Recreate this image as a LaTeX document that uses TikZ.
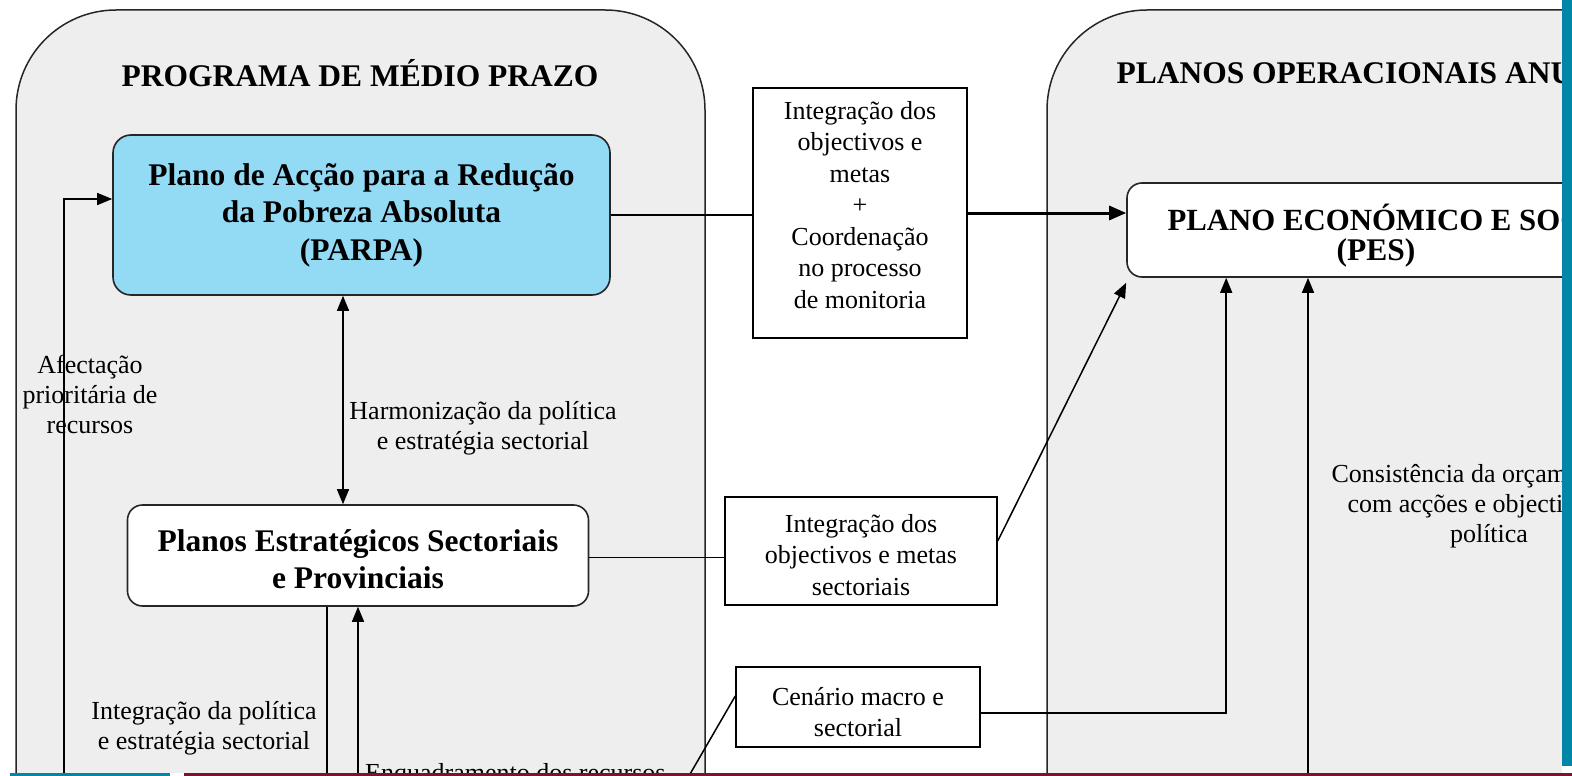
\documentclass[tikz,border=0pt]{standalone}
\usepackage{fontspec}
\setmainfont{Liberation Serif}
\usetikzlibrary{arrows.meta}
\definecolor{panelgray}{HTML}{EEEEEE}
\definecolor{parpablue}{RGB}{147,218,245}
\definecolor{slideteal}{RGB}{0,134,166}
\definecolor{slidered}{RGB}{128,16,48}
\tikzset{
  panel/.style={draw=black!85, line width=1.5pt, fill=panelgray, rounded corners=100pt},
  headfont/.style={font=\fontsize{31.5}{37.5}\selectfont\bfseries},
  roundbox/.style={headfont, draw=black!85, line width=1.6pt, rounded corners=18pt, align=center, inner sep=0pt},
  sqbox/.style={draw=black, line width=1.5pt, fill=white, inner sep=0pt},
  boxtext/.style={align=center, inner sep=0pt, font=\fontsize{26}{31.5}\selectfont},
  lbl/.style={align=center, inner sep=0pt, font=\fontsize{26}{30}\selectfont},
  link/.style={draw=black, line width=1.5pt},
  tip/.style={link, -{Triangle[length=15pt,width=12pt]}},
  twotip/.style={link, {Triangle[length=15pt,width=12pt]}-{Triangle[length=15pt,width=12pt]}},
  fattip/.style={draw=black, line width=3pt, -{Triangle[length=17pt,width=14pt]}}
}

\begin{document}
\begin{tikzpicture}[x=1pt, y=-1pt]
			%%%%% START %%%%%
			\useasboundingbox (0,0) rectangle (1572,776);
			\clip (0,0) rectangle (1572,776);
			\fill[white] (0,0) rectangle (1572,776);
			
			% the two panels
			\draw[panel] (16,10) rectangle (705,900);
			\draw[panel] (1047,10) rectangle (1760,900);
			\node[headfont] (progtitle) at (360,73) {PROGRAMA DE MÉDIO PRAZO};
			\node[headfont, anchor=west] (opertitle) at (1113,73) {PLANOS OPERACIONAIS ANUAIS};
			
			% free labels
			\node[lbl] (afect) at (90,394) {Afectação\\prioritária de\\recursos};
			\node[lbl] (harmon) at (483,428) {Harmonização da política\\e estratégia sectorial};
			\node[lbl] (integpol) at (204,728) {Integração da política\\e estratégia sectorial};
			\node[lbl, anchor=base west] (enquad) at (365,781) {Enquadramento dos recursos};
			\node[lbl] (consist) at (1489,506) {Consistência da orçamentação\\com acções e objectivos de\\política};
			
			% boxes
			\node[roundbox, fill=parpablue, minimum width=497pt, minimum height=160pt] (parpa) at (361.5,215)
				{Plano de Acção para a Redução\\da Pobreza Absoluta\\(PARPA)};
			\node[roundbox, fill=white, rounded corners=15pt, minimum width=461pt, minimum height=101pt] (pesec) at (358,555.5) {};
			\node[headfont, align=center] (pesectxt) at (358,559) {Planos Estratégicos Sectoriais\\e Provinciais};
			\node[roundbox, fill=white, rounded corners=15pt, minimum width=526pt, minimum height=94pt] (pes) at (1390,230) {};
			\node[font=\fontsize{30.8}{37}\selectfont\bfseries, anchor=west] (pestxt) at (1164,217) {PLANO ECONÓMICO E SOCIAL};
			\node[headfont] (pesabbr) at (1376,253) {(PES)};
			\node[sqbox, minimum width=214pt, minimum height=250pt] (coord) at (860,213) {};
			\node[boxtext] (coordtxt) at (860,205)
				{Integração dos\\objectivos e\\metas\\+\\Coordenação\\no processo\\de monitoria};
			\node[sqbox, minimum width=272pt, minimum height=108pt] (metas) at (861,551) {};
			\node[boxtext] (metastxt) at (861,555) {Integração dos\\objectivos e metas\\sectoriais};
			\node[sqbox, minimum width=244pt, minimum height=80pt] (cenario) at (858,707) {};
			\node[boxtext] (cenariotxt) at (858,712) {Cenário macro e\\sectorial};
			
			% connectors
			\coordinate (afbot) at (64,800);
			\coordinate (afturn) at (64,199);
			\draw[tip] (afbot) -- (afturn) -- (afturn -| parpa.west);
			\draw[twotip] ([xshift=-18.5pt]parpa.south) -- ([xshift=-15pt]pesec.north);
			\draw[link] (parpa.east) -- (parpa.east -| coord.west);
			\draw[fattip] (coord.east) -- (coord.east -| pes.west);
			\draw[link] ([yshift=-2pt]pesec.east) -- ([yshift=-2pt]pesec.east -| metas.west);
			\draw[tip] ([yshift=10pt]metas.east) -- ([yshift=-5pt]pes.south west);
			\draw[tip] ([yshift=-6pt]cenario.east) -| ([xshift=100pt]pes.south west);
			\coordinate (consbot) at (1308,800);
			\draw[tip] (consbot) -- (consbot |- pes.south);
			\coordinate (downbot) at (327,800);
			\draw[link] ([xshift=-31pt]pesec.south) -- (downbot);
			\coordinate (upbot) at (358,800);
			\draw[tip] (upbot) -- (pesec.south);
			\coordinate (diagbot) at (675,800);
			\draw[link] (diagbot) -- ([yshift=11pt]cenario.west);
			
			% slide frame
			\fill[slideteal] (1562,0) rectangle (1572,766);
			\fill[white] (1562,766) rectangle (1572,773);
			\fill[white] (0,773) rectangle (1572,776);
			\fill[slideteal] (10,773) rectangle (170,776);
			\fill[slidered] (184,773) rectangle (1572,776);
			%%%%% END %%%%%
\end{tikzpicture}
\end{document}
